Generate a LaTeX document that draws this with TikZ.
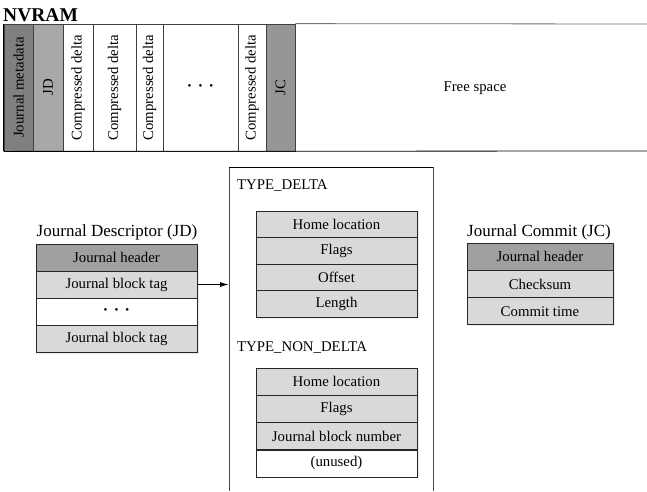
\documentclass[tikz,border=0pt]{standalone}
\usepackage{fontspec}
\setmainfont{Liberation Serif}
\usetikzlibrary{positioning,shadows,arrows,arrows.meta}
\definecolor{dgray}{RGB}{128,128,128}
\definecolor{mgray}{RGB}{168,168,168}
\definecolor{jgray}{RGB}{150,150,150}
\definecolor{hgray}{RGB}{160,160,160}
\definecolor{lgray}{RGB}{217,217,217}
\newcommand{\cellfont}{\fontsize{14.8}{17}\selectfont}
\newcommand{\threedots}{{\fontsize{11}{12}\selectfont\textbullet\hspace{7pt}\textbullet\hspace{7pt}\textbullet}}

\begin{document}
\begin{tikzpicture}[x=1pt,y=-1pt]
\tikzstyle{col}=[rectangle, minimum height=127pt, inner sep=0pt, draw=black!75, line width=0.8pt, font=\cellfont]
\tikzstyle{cell}=[rectangle, minimum height=27pt, inner sep=0pt, draw=black!85, line width=0.8pt, fill=lgray, font=\cellfont,
  drop shadow={opacity=0.15, shadow xshift=1.5pt, shadow yshift=-1.5pt}]
\tikzstyle{head}=[cell, fill=hgray]
\tikzstyle{title}=[font=\fontsize{17}{20}\selectfont]
\tikzstyle{connect}=[-{Latex[length=9pt,width=5pt]}, line width=1.2pt]

\useasboundingbox (0,0) rectangle (647,491);

% NVRAM layout
	\node[font=\fontsize{19.5}{22}\selectfont\bfseries, anchor=south west, inner sep=0pt] (nvram) at (3,22) {NVRAM};

	\node[col, fill=dgray, minimum width=29pt] (meta) at (18.5,87.5) {\rotatebox{90}{Journal metadata}};
	\node[col, fill=mgray, minimum width=30pt] (jd) at (48,87.5) {\rotatebox{90}{JD}};
	\node[col, fill=white, minimum width=30pt] (cd1) at (78,87.5) {\rotatebox{90}{Compressed delta}};
	\node[col, fill=white, minimum width=43pt] (cd2) at (114.5,87.5) {\rotatebox{90}{Compressed delta}};
	\node[col, fill=white, minimum width=27pt] (cd3) at (149.5,87.5) {\rotatebox{90}{Compressed delta}};
	\node[col, fill=white, minimum width=75pt] (dots) at (200.5,87.5) {\threedots};
	\node[col, fill=white, minimum width=28pt] (cd4) at (252,87.5) {\rotatebox{90}{Compressed delta}};
	\node[col, fill=jgray, minimum width=29pt] (jc) at (280.5,87.5) {\rotatebox{90}{JC}};
	\node[font=\cellfont] (free) at (475,88) {Free space};

	\draw[black!55, thick] (jc.north east) -- (647,24);
	\draw[black, thick] (meta.south west) -- (647,151);
	\draw[black, thick] (meta.north west) -- (meta.south west);

% Journal descriptor
	\node[title] (jdtitle) at (117,232) {Journal Descriptor (JD)};
	\node[head, minimum width=161pt] (jdh) at (116.5,257.5) {Journal header};
	\node[cell, minimum width=161pt] (tag1) at (116.5,284.5) {Journal block tag};
	\node[cell, minimum width=161pt, fill=white] (jddots) at (116.5,311.5) {\threedots};
	\node[cell, minimum width=161pt] (tag2) at (116.5,338.5) {Journal block tag};

% tag formats
	\draw[black!70] (229,491) -- (229,167) -- (433,167) -- (433,491);
	\draw[black, thick] (229,167) -- (433,167);
	\coordinate (boxin) at (229,284.5);

	\node[font=\cellfont, anchor=west, inner sep=0pt] (tdelta) at (237,186) {TYPE\_DELTA};
	\node[cell, minimum width=161pt, minimum height=26.5pt] (d1) at (336.5,224.25) {Home location};
	\node[cell, minimum width=161pt, minimum height=26.5pt] (d2) at (336.5,250.75) {Flags};
	\node[cell, minimum width=161pt, minimum height=26.5pt] (d3) at (336.5,277.25) {Offset};
	\node[cell, minimum width=161pt, minimum height=26.5pt] (d4) at (336.5,303.75) {Length};

	\node[font=\cellfont, anchor=west, inner sep=0pt] (tnondelta) at (237,348) {TYPE\_NON\_DELTA};
	\node[cell, minimum width=161pt] (n1) at (336.5,381.6) {Home location};
	\node[cell, minimum width=161pt] (n2) at (336.5,408.9) {Flags};
	\node[cell, minimum width=161pt] (n3) at (336.5,436.1) {Journal block number};
	\node[cell, minimum width=161pt, fill=white] (n4) at (336.5,463.4) {(unused)};

% Journal commit
	\node[title] (jctitle) at (539,232) {Journal Commit (JC)};
	\node[head, minimum width=146pt] (jch) at (540,256.7) {Journal header};
	\node[cell, minimum width=146pt] (jc1) at (540,284) {Checksum};
	\node[cell, minimum width=146pt] (jc2) at (540,311.3) {Commit time};

	\path
		(tag1) edge [connect] (boxin);

\end{tikzpicture}
\end{document}
